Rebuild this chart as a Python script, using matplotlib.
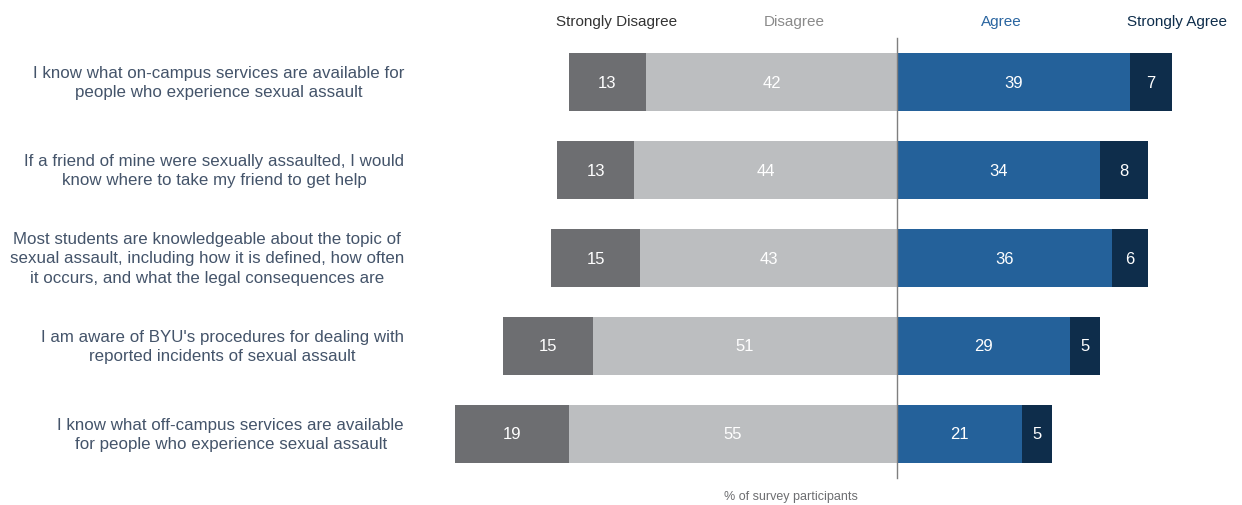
import matplotlib
matplotlib.use("Agg")
import matplotlib.pyplot as plt

questions = [
    "I know what on-campus services are available for\npeople who experience sexual assault",
    "If a friend of mine were sexually assaulted, I would\nknow where to take my friend to get help",
    "Most students are knowledgeable about the topic of\nsexual assault, including how it is defined, how often\nit occurs, and what the legal consequences are",
    "I am aware of BYU's procedures for dealing with\nreported incidents of sexual assault",
    "I know what off-campus services are available\nfor people who experience sexual assault",
]
strongly_disagree = [13, 13, 15, 15, 19]
disagree = [42, 44, 43, 51, 55]
agree = [39, 34, 36, 29, 21]
strongly_agree = [7, 8, 6, 5, 5]
headers = ["Strongly Disagree", "Disagree", "Agree", "Strongly Agree"]

c_sd, c_d, c_a, c_sa = "#6d6e71", "#bcbec0", "#24619a", "#0e2d4b"
head_colors = ["#333333", "#8a8a8a", "#2a65a0", "#0e2d4b"]
narrow = ["Liberation Sans Narrow", "Liberation Sans", "DejaVu Sans"]
plt.rcParams["font.family"] = ["Liberation Sans", "DejaVu Sans"]

fig = plt.figure(figsize=(12.42, 5.06), dpi=100)
# axes spans x 440..1240 px, full height; ~5.97 px per percent
px = 5.97
ax = fig.add_axes([440 / 1242, 0, 800 / 1242, 1])
ax.set_xlim(-457 / px, 343 / px)
ax.set_ylim(423 / 88, -83 / 88)
ax.axis("off")

y = list(range(len(questions)))
h = 0.66
left_d = [-d for d in disagree]
left_sd = [-(d + s) for d, s in zip(disagree, strongly_disagree)]
ax.barh(y, disagree, left=left_d, height=h, color=c_d)
ax.barh(y, strongly_disagree, left=left_sd, height=h, color=c_sd)
ax.barh(y, agree, left=0, height=h, color=c_a)
ax.barh(y, strongly_agree, left=agree, height=h, color=c_sa)

for i in y:
    segs = [(left_sd[i], strongly_disagree[i]), (left_d[i], disagree[i]),
            (0, agree[i]), (agree[i], strongly_agree[i])]
    for start, val in segs:
        ax.text(start + val / 2, i, str(val), ha="center", va="center",
                color="white", fontsize=12, family=narrow)
    ax.text(-493 / px, i, questions[i], ha="right", va="center",
            multialignment="center", color="#44546a", fontsize=12.2,
            clip_on=False, linespacing=1.36)

ax.plot([0, 0], [-0.5, 4.5], color="#7f7f7f", lw=1)

for x, lab, col in zip([-280, -103, 104, 280], headers, head_colors):
    ax.text(x / px, -0.695, lab, ha="center", va="center", color=col,
            fontsize=11, family=narrow)

ax.text(-106 / px, 4.705, "% of survey participants", ha="center", va="center",
        color="#6d6e71", fontsize=9, family=narrow)

fig.savefig("out.png", dpi=100)
